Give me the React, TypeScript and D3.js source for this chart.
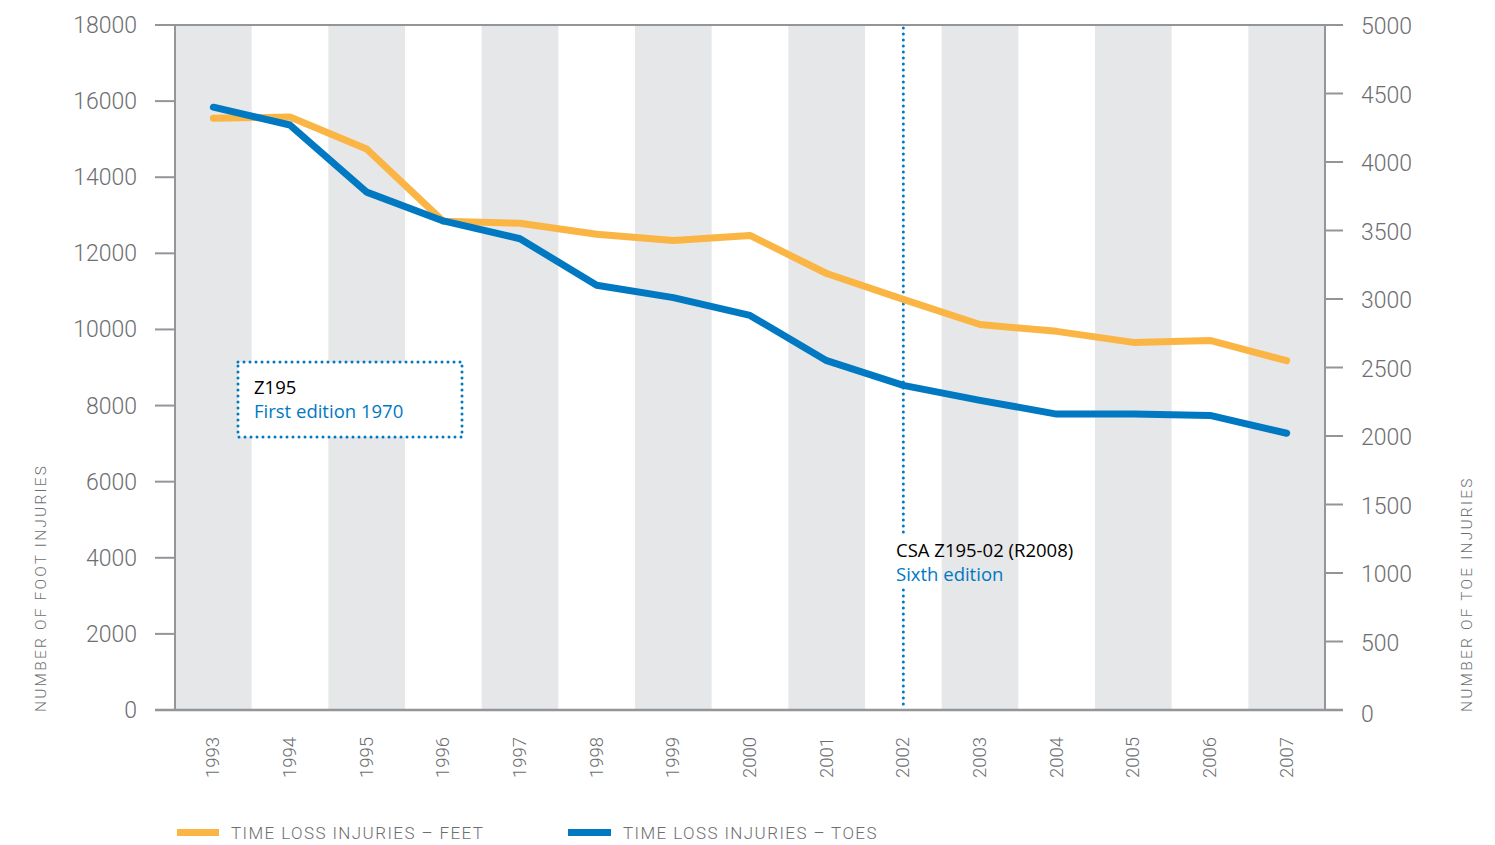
import React from "react";
import * as d3 from "d3";

const years = ["1993", "1994", "1995", "1996", "1997", "1998", "1999", "2000", "2001", "2002", "2003", "2004", "2005", "2006", "2007"];
const feet = [15550, 15580, 14740, 12840, 12790, 12500, 12340, 12470, 11470, 10790, 10130, 9950, 9660, 9710, 9180];
const toes = [4400, 4270, 3780, 3570, 3440, 3100, 3010, 2880, 2550, 2370, 2260, 2160, 2160, 2150, 2020];
const leftTicks = [0, 2000, 4000, 6000, 8000, 10000, 12000, 14000, 16000, 18000];
const rightTicks = [0, 500, 1000, 1500, 2000, 2500, 3000, 3500, 4000, 4500, 5000];

const W = 1495, H = 845;
const left = 175, right = 1325, top = 25, bottom = 710;
const axisColor = "#939598";
const textGray = "#6d6e71";
const orange = "#fbb545";
const blue = "#0079c2";
const numFont = "Roboto, 'Liberation Sans', sans-serif";
const noteFont = "'Open Sans', 'Noto Sans', sans-serif";

export default function App() {
  const x = d3.scaleBand().domain(years).range([left, right]);
  const xc = (yr: string) => (x(yr) as number) + x.bandwidth() / 2;
  const yL = d3.scaleLinear().domain([0, 18000]).range([bottom, top]);
  const yR = d3.scaleLinear().domain([0, 5000]).range([bottom, top]);

  const feetLine = d3.line<number>().x((d, i) => xc(years[i])).y(d => yL(d));
  const toesLine = d3.line<number>().x((d, i) => xc(years[i])).y(d => yR(d));

  const markX = xc("2002");

  return (
    <svg width={W} height={H} style={{ position: "absolute", left: 0, top: 0, background: "#fff" }}>
      {/* alternating bands */}
      {years.map((yr, i) =>
        i % 2 === 0 ? (
          <rect key={yr} x={x(yr)} y={top} width={x.bandwidth()} height={bottom - top} fill="#e6e7e8" />
        ) : null
      )}

      {/* frame */}
      <line x1={155} x2={1343} y1={top} y2={top} stroke={axisColor} strokeWidth={2} />
      <line x1={155} x2={1343} y1={bottom} y2={bottom} stroke={axisColor} strokeWidth={2.5} />
      <line x1={left} x2={left} y1={top} y2={bottom} stroke={axisColor} strokeWidth={2} />
      <line x1={right} x2={right} y1={top} y2={bottom} stroke={axisColor} strokeWidth={2} />

      {leftTicks.map(t => (
        <g key={"l" + t}>
          <line x1={155} x2={left} y1={yL(t)} y2={yL(t)} stroke={axisColor} strokeWidth={2} />
          <text x={137} y={yL(t)} dy="0.35em" textAnchor="end" fontFamily={numFont} fontWeight={300} fontSize={23} fill={textGray}>
            {t}
          </text>
        </g>
      ))}
      {rightTicks.map(t => (
        <g key={"r" + t}>
          <line x1={right} x2={1343} y1={yR(t)} y2={yR(t)} stroke={axisColor} strokeWidth={2} />
          <text x={1361} y={yR(t) + (t === 0 ? 4 : 1)} dy="0.35em" textAnchor="start" fontFamily={numFont} fontWeight={300} fontSize={23} fill={textGray}>
            {t}
          </text>
        </g>
      ))}

      {years.map(yr => (
        <text key={"x" + yr} transform={`translate(${xc(yr) + 6},737) rotate(-90)`} textAnchor="end" fontFamily={numFont} fontWeight={300} fontSize={18.5} fill={textGray}>
          {yr}
        </text>
      ))}

      <text transform="translate(46,712) rotate(-90)" fontFamily={numFont} fontWeight={300} fontSize={15.5} letterSpacing={2.2} fill={textGray}>
        NUMBER OF FOOT INJURIES
      </text>
      <text transform="translate(1472,712) rotate(-90)" fontFamily={numFont} fontWeight={300} fontSize={15.5} letterSpacing={2.2} fill={textGray}>
        NUMBER OF TOE INJURIES
      </text>

      {/* 2002 marker */}
      <line x1={markX} x2={markX} y1={top + 3} y2={534} stroke={blue} strokeWidth={3} strokeLinecap="round" strokeDasharray="0 6" />
      <line x1={markX} x2={markX} y1={590} y2={bottom - 2} stroke={blue} strokeWidth={3} strokeLinecap="round" strokeDasharray="0 6" />

      {/* series */}
      <path d={feetLine(feet) as string} fill="none" stroke={orange} strokeWidth={7} strokeLinecap="round" strokeLinejoin="round" />
      <path d={toesLine(toes) as string} fill="none" stroke={blue} strokeWidth={7} strokeLinecap="round" strokeLinejoin="round" />

      <text x={896} y={557} fontFamily={noteFont} fontSize={18.5} fill="#000">CSA Z195-02 (R2008)</text>
      <text x={896} y={581} fontFamily={noteFont} fontSize={18.5} fill={blue}>Sixth edition</text>

      {/* first edition box */}
      <rect x={238} y={362} width={224} height={75} fill="#fff" stroke={blue} strokeWidth={3} strokeLinecap="round" strokeDasharray="0 6" />
      <text x={254} y={394} fontFamily={noteFont} fontSize={18.5} fill="#000">Z195</text>
      <text x={254} y={418} fontFamily={noteFont} fontSize={18.5} fill={blue}>First edition 1970</text>

      {/* legend */}
      <rect x={177} y={829} width={42} height={7} fill={orange} />
      <text x={231} y={833} dy="0.35em" fontFamily={numFont} fontWeight={300} fontSize={17} letterSpacing={1.4} fill={textGray}>
        TIME LOSS INJURIES – FEET
      </text>
      <rect x={568} y={829} width={43} height={7} fill={blue} />
      <text x={623} y={833} dy="0.35em" fontFamily={numFont} fontWeight={300} fontSize={17} letterSpacing={1.4} fill={textGray}>
        TIME LOSS INJURIES – TOES
      </text>
    </svg>
  );
}
